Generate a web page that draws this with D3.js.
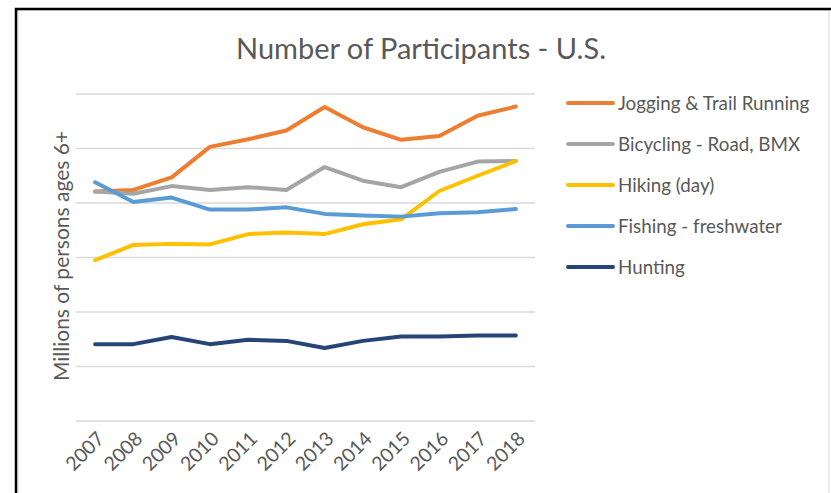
<!DOCTYPE html>
<html>
<head>
<meta charset="utf-8">
<script src="https://cdn.jsdelivr.net/npm/d3@7"></script>
<style>
  body { margin: 0; background: #fff; }
  svg text { font-family: Lato, "Open Sans", sans-serif; fill: #595959; }
</style>
</head>
<body>
<svg id="chart" width="831" height="493"></svg>
<script>
// categories
const years = ["2007","2008","2009","2010","2011","2012","2013","2014","2015","2016","2017","2018"];

// series values (millions; axis has no labels)
const jogging   = [42.1, 42.4, 44.7, 50.3, 51.7, 53.3, 57.6, 53.9, 51.6, 52.3, 56.0, 57.7];
const bicycling = [42.1, 41.7, 43.1, 42.4, 42.9, 42.4, 46.6, 44.1, 42.9, 45.7, 47.6, 47.7];
const hiking    = [29.5, 32.3, 32.5, 32.4, 34.3, 34.6, 34.3, 36.1, 37.0, 42.2, 45.0, 47.7];
const fishing   = [43.8, 40.2, 41.0, 38.8, 38.8, 39.2, 38.0, 37.7, 37.5, 38.1, 38.3, 38.9];
const hunting   = [14.1, 14.1, 15.4, 14.1, 14.9, 14.7, 13.4, 14.7, 15.5, 15.5, 15.7, 15.7];

const seriesNames = ["Jogging & Trail Running", "Bicycling - Road, BMX", "Hiking (day)", "Fishing - freshwater", "Hunting"];
const seriesValues = [jogging, bicycling, hiking, fishing, hunting];
const seriesColors = ["#ED7D31", "#A5A5A5", "#FFC000", "#5B9BD5", "#264478"];

const yTicks = [0, 10, 20, 30, 40, 50, 60];

const svg = d3.select("svg#chart");

// outer frame
svg.append("rect")
    .attr("x", 18).attr("y", 10)
    .attr("width", 811).attr("height", 490)
    .attr("fill", "#fff")
    .attr("stroke", "#D9D9D9")
    .attr("stroke-width", 1);
svg.append("path")
    .attr("d", "M16,493 L16,9 L831,9")
    .attr("fill", "none")
    .attr("stroke", "#000")
    .attr("stroke-width", 2.5);

let plotLeft = 76, plotRight = 535, plotTop = 94, plotBottom = 421;

let xScale = d3.scalePoint()
    .domain(years)
    .range([plotLeft, plotRight])
    .padding(0.5);

let yScale = d3.scaleLinear()
    .domain([0, 60])
    .range([plotBottom, plotTop]);

// title
svg.append("text")
    .attr("x", 421)
    .attr("y", 59)
    .attr("text-anchor", "middle")
    .attr("font-size", 29)
    .text("Number of Participants - U.S.");

// gridlines
svg.append("g")
    .selectAll("line")
    .data(yTicks)
    .join("line")
    .attr("x1", plotLeft)
    .attr("x2", plotRight)
    .attr("y1", d => yScale(d))
    .attr("y2", d => yScale(d))
    .attr("stroke", "#D9D9D9")
    .attr("stroke-width", 1.5);

// y axis title
svg.append("text")
    .attr("transform", "translate(69," + 256 + ") rotate(-90)")
    .attr("text-anchor", "middle")
    .attr("font-size", 21)
    .text("Millions of persons ages 6+");

// x axis labels
let xAxis = d3.axisBottom(xScale).tickSize(0).tickPadding(0);
let gx = svg.append("g")
    .attr("transform", "translate(0," + plotBottom + ")")
    .call(xAxis);
gx.select(".domain").remove();
gx.selectAll("text")
    .attr("font-size", 19.5)
    .attr("fill", "#595959")
    .attr("font-family", "Lato, sans-serif")
    .attr("dy", null)
    .attr("y", 0)
    .attr("transform", "translate(10,19) rotate(-45)")
    .style("text-anchor", "end");

// lines
let line = d3.line()
    .x((d, i) => xScale(years[i]))
    .y(d => yScale(d));

svg.append("g")
    .selectAll("path")
    .data(seriesValues)
    .join("path")
    .attr("d", d => line(d))
    .attr("fill", "none")
    .attr("stroke", (d, i) => seriesColors[i])
    .attr("stroke-width", 4)
    .attr("stroke-linecap", "round")
    .attr("stroke-linejoin", "round");

// legend
let legend = svg.append("g")
    .selectAll("g")
    .data(seriesNames)
    .join("g")
    .attr("transform", (d, i) => "translate(567," + (103 + i * 41) + ")");

legend.append("line")
    .attr("x1", 1).attr("x2", 46)
    .attr("stroke", (d, i) => seriesColors[i])
    .attr("stroke-width", 4)
    .attr("stroke-linecap", "round");

legend.append("text")
    .attr("x", 51)
    .attr("y", 0)
    .attr("dy", "0.35em")
    .attr("font-size", 18.8)
    .text(d => d);
</script>
</body>
</html>
